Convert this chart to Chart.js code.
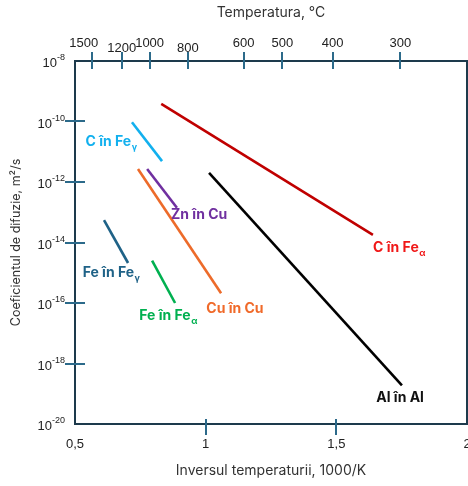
<!DOCTYPE html>
<html>
<head>
<meta charset="utf-8">
<script src="https://cdn.jsdelivr.net/npm/chart.js@4"></script>
<style>
  html, body { margin: 0; padding: 0; background: #fff; }
  #wrap { width: 468px; height: 486px; }
</style>
</head>
<body>
<div id="wrap"><canvas id="chart" width="468" height="486"></canvas></div>
<script>
// --- DATE ---
const xTicks = [0.5, 1, 1.5, 2];
const yExponents = [-8, -10, -12, -14, -16, -18, -20];
const tempTicksC = [1500, 1200, 1000, 800, 600, 500, 400, 300];

// fiecare serie: inversul temperaturii (1000/K) si coeficientul de difuzie (m²/s)
const cInFeAlphaX = [0.83, 1.64];
const cInFeAlphaD = [3.8e-10, 1.8e-14];
const cInFeGammaX = [0.718, 0.833];
const cInFeGammaD = [9.5e-11, 4.9e-12];
const znInCuX = [0.776, 0.890];
const znInCuD = [2.7e-12, 1.4e-13];
const cuInCuX = [0.741, 1.059];
const cuInCuD = [2.7e-12, 2.1e-16];
const alInAlX = [1.013, 1.751];
const alInAlD = [2.0e-12, 1.9e-19];
const feInFeGammaX = [0.611, 0.703];
const feInFeGammaD = [5.5e-14, 2.1e-15];
const feInFeAlphaX = [0.795, 0.883];
const feInFeAlphaD = [2.5e-15, 1.0e-16];

// etichete: text, indice, pozitie (1000/K, D)
const labelText = ['C în Fe', 'C în Fe', 'Zn în Cu', 'Cu în Cu', 'Al în Al', 'Fe în Fe', 'Fe în Fe'];
const labelSub = ['α', 'γ', '', '', '', 'γ', 'α'];
const labelX = [1.74, 0.638, 0.975, 1.112, 1.744, 0.638, 0.856];
const labelD = [6.6e-15, 2.1e-11, 8.1e-14, 6.3e-17, 7.2e-20, 9.8e-16, 3.7e-17];

// --- STILURI ---
const lineColors = ['#c00000', '#12b0ee', '#7030a0', '#ed6b2a', '#000000', '#1f6287', '#00b050'];
const labelColors = ['#f01818', '#12b0ee', '#7030a0', '#f06a2a', '#111111', '#1f6287', '#00b050'];
const frameColor = '#1d3a4c';
const tickColor = '#2c6a8a';
const textFont = 'Inter, "Open Sans", sans-serif';
const tickFont = '"Liberation Sans", Arial, sans-serif';

const seriesX = [cInFeAlphaX, cInFeGammaX, znInCuX, cuInCuX, alInAlX, feInFeGammaX, feInFeAlphaX];
const seriesD = [cInFeAlphaD, cInFeGammaD, znInCuD, cuInCuD, alInAlD, feInFeGammaD, feInFeAlphaD];

const datasets = seriesX.map((xs, i) => ({
    label: labelText[i] + labelSub[i],
    data: xs.map((x, k) => ({ x: x, y: seriesD[i][k] })),
    borderColor: lineColors[i],
    borderWidth: 2.6,
    pointRadius: 0,
    fill: false,
    tension: 0
}));

// rama, gradatii care traverseaza axa, etichetele axelor si ale seriilor
const decorPlugin = {
    id: 'decor',
    afterDraw(chart) {
        const ctx = chart.ctx;
        const a = chart.chartArea;
        const xs = chart.scales.x, ys = chart.scales.y, xt = chart.scales.xTop;
        ctx.save();

        ctx.strokeStyle = frameColor;
        ctx.lineWidth = 2;
        ctx.strokeRect(a.left, a.top, a.right - a.left, a.bottom - a.top);

        ctx.strokeStyle = tickColor;
        ctx.lineWidth = 2;
        ctx.beginPath();
        yExponents.filter(e => e > -20 && e < -8).forEach(e => {
            const py = Math.round(ys.getPixelForValue(Math.pow(10, e)));
            ctx.moveTo(a.left - 10, py);
            ctx.lineTo(a.left + 10, py);
        });
        xTicks.filter(v => v > 0.5 && v < 2).forEach(v => {
            const px = Math.round(xs.getPixelForValue(v));
            ctx.moveTo(px, a.bottom - 5);
            ctx.lineTo(px, a.bottom + 11);
        });
        tempTicksC.forEach(t => {
            const px = Math.round(xt.getPixelForValue(1000 / (t + 273)));
            ctx.moveTo(px, a.top - 9);
            ctx.lineTo(px, a.top + 8);
        });
        ctx.stroke();

        // etichete axa Y: 10 cu exponent
        ctx.fillStyle = '#222';
        ctx.textBaseline = 'alphabetic';
        yExponents.forEach(e => {
            const py = ys.getPixelForValue(Math.pow(10, e));
            ctx.font = '9px ' + tickFont;
            const expTxt = String(e);
            const we = ctx.measureText(expTxt).width;
            ctx.font = '13px ' + tickFont;
            const wb = ctx.measureText('10').width;
            const right = a.left - 10;
            ctx.fillText('10', right - we - wb, py + 6);
            ctx.font = '9px ' + tickFont;
            ctx.fillText(expTxt, right - we, py - 1);
        });

        // etichete axa de sus (temperaturi), decalate ca in original
        ctx.font = '13px ' + tickFont;
        ctx.textAlign = 'center';
        tempTicksC.forEach((t, i) => {
            const px = xt.getPixelForValue(1000 / (t + 273));
            const lower = (t === 1200 || t === 800) ? 5 : 0;
            ctx.fillText(String(t), px + (t === 1500 ? -8 : 0), a.top - 14 + lower);
        });

        // etichetele seriilor
        ctx.textAlign = 'left';
        ctx.textBaseline = 'middle';
        labelText.forEach((txt, i) => {
            const px = xs.getPixelForValue(labelX[i]);
            const py = ys.getPixelForValue(labelD[i]);
            ctx.font = 'bold 14px ' + textFont;
            const w1 = ctx.measureText(txt).width;
            ctx.font = 'bold 9px ' + textFont;
            const w2 = labelSub[i] ? ctx.measureText(labelSub[i]).width : 0;
            const x0 = px - (w1 + w2) / 2;
            ctx.fillStyle = labelColors[i];
            ctx.font = 'bold 14px ' + textFont;
            ctx.fillText(txt, x0, py);
            if (labelSub[i]) {
                ctx.font = 'bold 9px ' + textFont;
                ctx.fillText(labelSub[i], x0 + w1 + 0.5, py + 5);
            }
        });
        ctx.restore();
    }
};

new Chart(document.getElementById('chart'), {
    type: 'line',
    data: { datasets },
    options: {
        responsive: false,
        animation: false,
        layout: { padding: { left: 0, right: 1, top: 0, bottom: 0 } },
        plugins: { legend: { display: false }, tooltip: { enabled: false } },
        scales: {
            x: {
                type: 'linear',
                position: 'bottom',
                min: 0.5, max: 2,
                afterBuildTicks: s => { s.ticks = xTicks.map(v => ({ value: v })); },
                afterFit: s => { s.height = 62; s.paddingLeft = 0; s.paddingRight = 0; },
                grid: { display: false, drawTicks: false },
                border: { display: false },
                ticks: {
                    padding: 13,
                    color: '#222',
                    font: { family: tickFont, size: 13 },
                    maxRotation: 0, autoSkip: false,
                    callback: v => String(v).replace('.', ',')
                },
                title: {
                    display: true,
                    text: 'Inversul temperaturii, 1000/K',
                    color: '#333',
                    font: { family: textFont, size: 14 },
                    padding: { top: 0, bottom: 7 }
                }
            },
            xTop: {
                type: 'linear',
                position: 'top',
                min: 0.5, max: 2,
                afterBuildTicks: s => { s.ticks = tempTicksC.map(t => ({ value: 1000 / (t + 273) })); },
                afterFit: s => { s.height = 61; s.paddingLeft = 0; s.paddingRight = 0; },
                grid: { display: false, drawTicks: false },
                border: { display: false },
                ticks: { display: false },
                title: {
                    display: true,
                    text: 'Temperatura, °C',
                    color: '#333',
                    font: { family: textFont, size: 14 },
                    padding: { top: 4, bottom: 0 }
                }
            },
            y: {
                type: 'logarithmic',
                min: 1e-20, max: 1e-8,
                afterBuildTicks: s => { s.ticks = yExponents.map(e => ({ value: Math.pow(10, e) })); },
                afterFit: s => { s.width = 75; s.paddingTop = 0; s.paddingBottom = 0; },
                grid: { display: false, drawTicks: false },
                border: { display: false },
                ticks: { display: false },
                title: {
                    display: true,
                    text: 'Coeficientul de difuzie, m²/s',
                    color: '#333',
                    font: { family: textFont, size: 12.5 },
                    padding: { top: 9, bottom: 0 }
                }
            }
        }
    },
    plugins: [decorPlugin]
});
</script>
</body>
</html>
